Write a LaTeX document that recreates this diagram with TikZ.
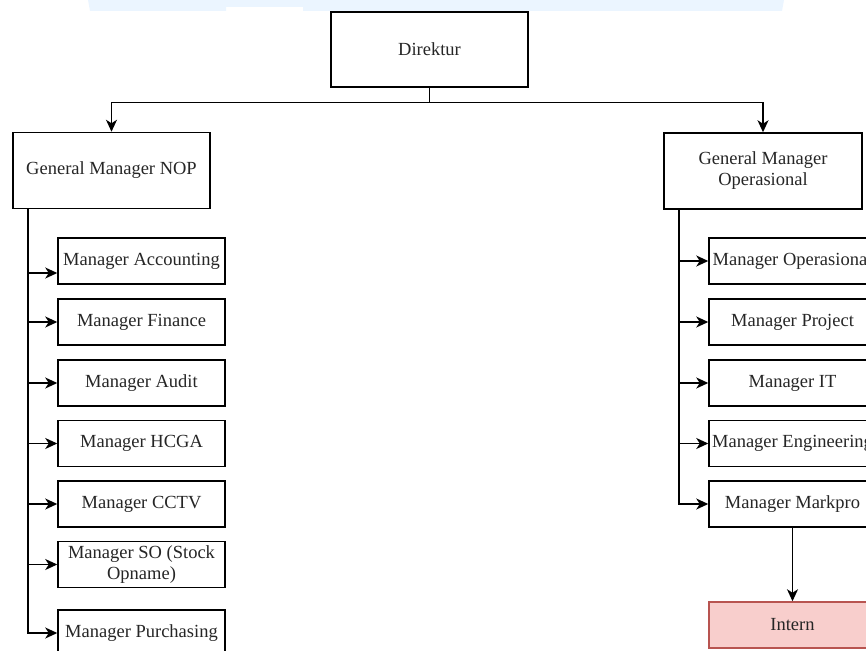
\documentclass[tikz,border=0pt]{standalone}
\usepackage{fontspec}
\setmainfont{Liberation Serif}
\usetikzlibrary{arrows.meta}
\definecolor{bandblue}{HTML}{EBF5FF}
\definecolor{internfill}{HTML}{F8CECC}
\definecolor{internline}{HTML}{B85450}
\begin{document}
\begin{tikzpicture}[x=1pt,y=-1pt,
  box/.style={draw=black,line width=1.5pt,fill=white,rectangle,inner sep=0pt,align=center,
    font=\fontsize{18.5}{21}\selectfont,text=black!85},
  bigbox/.style={box,minimum width=197pt,minimum height=76pt},
  subbox/.style={box,minimum width=167pt,minimum height=46pt},
  arr/.style={draw=black,line width=1.5pt,-{Stealth[length=12pt,width=11pt,inset=3.5pt]}},
  ln/.style={draw=black,line width=1.5pt}]
\useasboundingbox (0,0) rectangle (866,650);
\clip (0,0) rectangle (866,650);
% top band
\fill[bandblue] (88,0) -- (784,0) -- (782,11) -- (303,11) -- (303,7) -- (226,7) -- (226,11) -- (90,11) -- cycle;
% top level
\node[bigbox,minimum height=75pt] (dir) at (429.5,49.5) {Direktur};
\node[bigbox] (gmn) at (111.5,170.5) {General Manager NOP};
\node[bigbox,minimum width=198pt] (gmo) at (763,171) {General Manager\\Operasional};
% left children
\node[subbox] (acc) at (141.5,261) {Manager Accounting};
\node[subbox] (fin) at (141.5,322) {Manager Finance};
\node[subbox] (aud) at (141.5,383) {Manager Audit};
\node[subbox] (hcga) at (141.5,443.5) {Manager HCGA};
\node[subbox] (cctv) at (141.5,504) {Manager CCTV};
\node[subbox] (so) at (141.5,564.5) {Manager SO (Stock\\Opname)};
\node[subbox] (pur) at (141.5,633) {Manager Purchasing};
% right children
\node[subbox] (op) at (792.5,261) {Manager Operasional};
\node[subbox] (proj) at (792.5,322) {Manager Project};
\node[subbox] (it) at (792.5,383) {Manager IT};
\node[subbox] (eng) at (792.5,443.5) {Manager Engineering};
\node[subbox] (mark) at (792.5,504) {Manager Markpro};
\node[subbox,fill=internfill,draw=internline] (intern) at (792.5,625) {Intern};
% connectors top
\draw[arr] (dir.south) -- ++(0,15) -| (gmn.north);
\draw[arr] (dir.south) -- ++(0,15) -| (gmo.north);
% left tree
\coordinate (lt) at (28,208.5);
\draw[arr] (lt) |- ([yshift=-12pt]acc.west);
\draw[arr] (lt) |- (fin.west);
\draw[arr] (lt) |- (aud.west);
\draw[arr] (lt) |- (hcga.west);
\draw[arr] (lt) |- (cctv.west);
\draw[arr] (lt) |- (so.west);
\draw[arr] (lt) |- (pur.west);
% right tree
\coordinate (rt) at (679,209);
\draw[arr] (rt) |- (op.west);
\draw[arr] (rt) |- (proj.west);
\draw[arr] (rt) |- (it.west);
\draw[arr] (rt) |- (eng.west);
\draw[arr] (rt) |- (mark.west);
\draw[arr] (mark.south) -- (intern.north);
\end{tikzpicture}
\end{document}
